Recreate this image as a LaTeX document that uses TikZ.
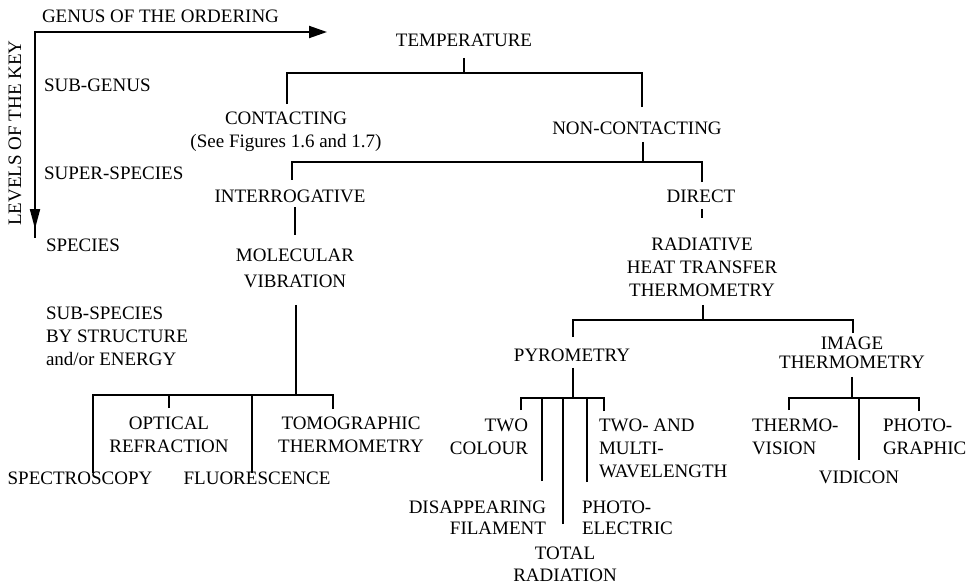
\documentclass[tikz,border=0pt]{standalone}
\usepackage{fontspec}
\setmainfont{Liberation Serif}
\usetikzlibrary{arrows.meta}

\tikzset{
  lbl/.style={inner sep=0pt, outer sep=0pt, font=\fontsize{19}{23}\selectfont},
  tree/.style={line width=2pt, line join=miter},
  axis/.style={line width=2pt},
}

\begin{document}
\begin{tikzpicture}[x=1pt, y=-1pt]
\useasboundingbox (0,0) rectangle (970,584);

% ---------- key axes ----------
\node[lbl, anchor=west] (genus) at (42,16) {GENUS OF THE ORDERING};
\node[lbl, rotate=90] (levels) at (15,133) {LEVELS OF THE KEY};
\coordinate (corner) at (35,32);
\coordinate (xtip) at (327,32);
\coordinate (ytip) at (35,229);
\coordinate (ytail) at (35,238);
\draw[axis] (corner) -- (ytail);
\draw[axis, -{Triangle[length=18pt,width=12pt]}] (corner) -- (xtip);
\draw[axis, -{Triangle[length=20pt,width=10pt]}] ([yshift=1pt]corner) -- (ytip);

% ---------- level names ----------
\node[lbl, anchor=west] (subgenus) at (44,85) {SUB-GENUS};
\node[lbl, anchor=west] (superspecies) at (44,173) {SUPER-SPECIES};
\node[lbl, anchor=west] (species) at (46,245) {SPECIES};
\node[lbl, anchor=north west, align=left] (subspecies) at (46,306.5)
  {SUB-SPECIES\\BY STRUCTURE\\and/or ENERGY};

% ---------- classification tree ----------
\node[lbl] (temp) at (464,40) {TEMPERATURE};
\node[lbl, anchor=north, align=center] (contact) at (286,111.5)
  {CONTACTING\\(See Figures 1.6 and 1.7)};
\node[lbl] (nonc) at (637,128) {NON-CONTACTING};
\node[lbl] (interr) at (290,196) {INTERROGATIVE};
\node[lbl] (direct) at (701,196) {DIRECT};
\node[lbl, anchor=north, align=center] (molvib) at (295,248.5)
  {MOLECULAR\\[3pt]VIBRATION};
\node[lbl, anchor=north, align=center] (radiative) at (702,237.5)
  {RADIATIVE\\HEAT TRANSFER\\THERMOMETRY};

% sub-species under molecular vibration
\node[lbl] (spectro) at (80,478) {SPECTROSCOPY};
\node[lbl, anchor=north, align=center] (optical) at (169,416.5)
  {OPTICAL\\REFRACTION};
\node[lbl] (fluor) at (257,478) {FLUORESCENCE};
\node[lbl, anchor=north, align=center] (tomog) at (351,416.5)
  {TOMOGRAPHIC\\THERMOMETRY};

% radiative branch
\node[lbl] (pyro) at (572,355) {PYROMETRY};
\node[lbl, anchor=north, align=center] (imaget) at (852,336.5)
  {IMAGE\\[-4pt]THERMOMETRY};

% pyrometry sub-species
\node[lbl, anchor=north east, align=right] (twocol) at (528,418.5)
  {TWO\\COLOUR};
\node[lbl, anchor=north east, align=right] (disapp) at (546,500.5)
  {DISAPPEARING\\[-2pt]FILAMENT};
\node[lbl, anchor=north, align=center] (totalrad) at (565,546.5)
  {TOTAL\\[-1pt]RADIATION};
\node[lbl, anchor=north west, align=left] (photoel) at (582,500.5)
  {PHOTO-\\[-2pt]ELECTRIC};
\node[lbl, anchor=north west, align=left] (twomulti) at (599,418.5)
  {TWO- AND\\MULTI-\\WAVELENGTH};

% image thermometry sub-species
\node[lbl, anchor=north west, align=left] (thermovis) at (752,418.5)
  {THERMO-\\VISION};
\node[lbl] (vidicon) at (859,477) {VIDICON};
\node[lbl, anchor=north west, align=left] (photogr) at (883,418.5)
  {PHOTO-\\GRAPHIC};

% junctions where each stem meets its branch bar
\coordinate (jT) at (464,73);
\coordinate (jN) at (643,162);
\coordinate (jM) at (296,395);
\coordinate (jR) at (703,320);
\coordinate (jP) at (573,398);
\coordinate (jI) at (852,398);

% temperature -> contacting / non-contacting
\draw[tree] ([yshift=-11.6pt]temp.south) -- (jT);
\draw[tree] ([xshift=1pt,yshift=7.5pt]contact.north) |- (jT);
\draw[tree] ([xshift=5pt,yshift=14.5pt]nonc.north) |- (jT);

% non-contacting -> interrogative / direct
\draw[tree] ([xshift=6pt,yshift=-7.6pt]nonc.south) -- (jN);
\draw[tree] ([xshift=2pt,yshift=9.6pt]interr.north) |- (jN);
\draw[tree] ([xshift=1pt,yshift=7.6pt]direct.north) |- (jN);

% single links
\draw[tree] ([xshift=5pt,yshift=-4.6pt]interr.south) -- ([yshift=13.5pt]molvib.north);
\draw[tree] ([xshift=1pt,yshift=-6.6pt]direct.south) -- ([yshift=19.5pt]radiative.north);

% molecular vibration -> its sub-species
\draw[tree] ([xshift=1pt,yshift=-17.6pt]molvib.south) -- (jM);
\draw[tree] ([xshift=13pt,yshift=-1pt]spectro.north) |- (jM);
\draw[tree] ([yshift=8.5pt]optical.north) |- (jM);
\draw[tree] ([xshift=-5pt,yshift=-1pt]fluor.north) |- (jM);
\draw[tree] ([xshift=-18pt,yshift=7.5pt]tomog.north) |- (jM);

% radiative heat transfer -> pyrometry / image thermometry
\draw[tree] ([xshift=1pt,yshift=-8.6pt]radiative.south) -- (jR);
\draw[tree] ([xshift=1pt,yshift=11.6pt]pyro.north) |- (jR);
\draw[tree] ([xshift=1pt,yshift=3.5pt]imaget.north) |- (jR);

% pyrometry -> its sub-species
\draw[tree] ([xshift=1pt,yshift=-6.6pt]pyro.south) -- (jP);
\draw[tree] ([xshift=-7pt,yshift=8.5pt]twocol.north east) |- (jP);
\draw[tree] ([xshift=-4pt,yshift=19.5pt]disapp.north east) |- (jP);
\draw[tree] ([xshift=-2pt,yshift=22.5pt]totalrad.north) |- (jP);
\draw[tree] ([xshift=5pt,yshift=18.5pt]photoel.north west) |- (jP);
\draw[tree] ([xshift=5pt,yshift=7.5pt]twomulti.north west) |- (jP);

% image thermometry -> its sub-species
\draw[tree] ([yshift=-8.6pt]imaget.south) -- (jI);
\draw[tree] ([xshift=37pt,yshift=8.5pt]thermovis.north west) |- (jI);
\draw[tree] ([yshift=10.6pt]vidicon.north) |- (jI);
\draw[tree] ([xshift=36pt,yshift=7.5pt]photogr.north west) |- (jI);
\end{tikzpicture}
\end{document}
